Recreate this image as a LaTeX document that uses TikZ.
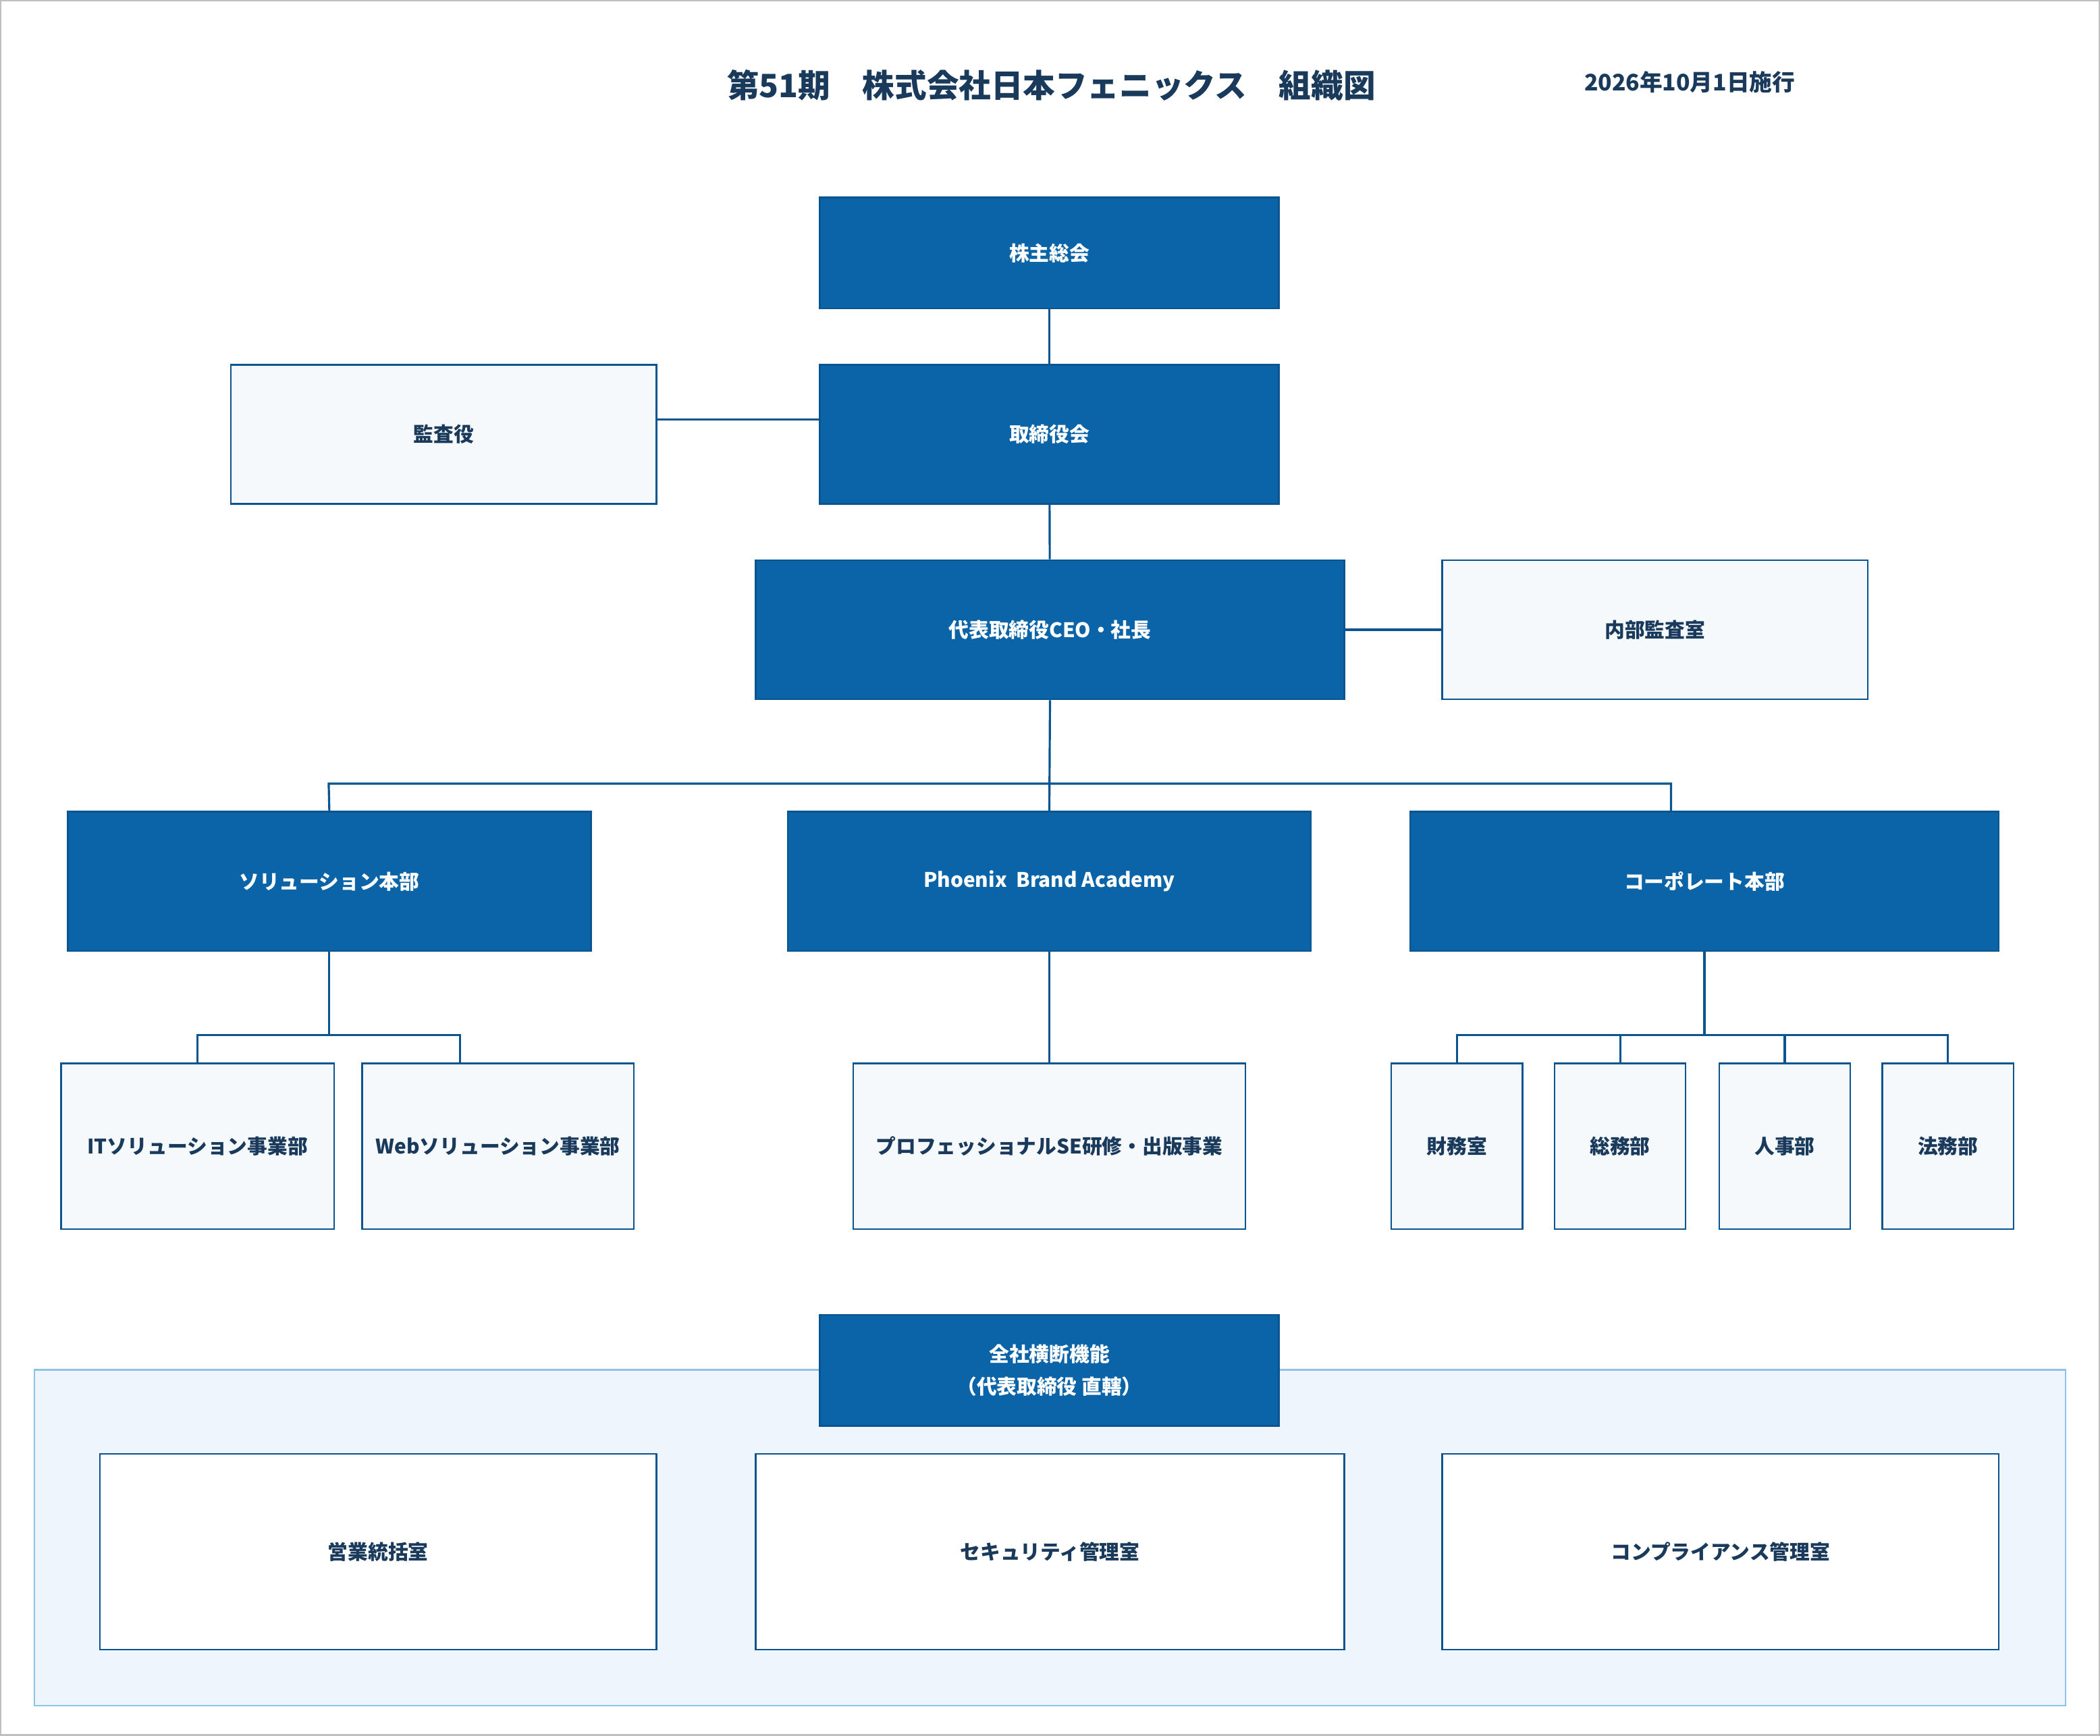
\documentclass[tikz,border=0pt]{standalone}
\usepackage{fontspec}
\setmainfont{Noto Sans CJK JP}
\begin{document}
\definecolor{dk}{HTML}{0C64A8}
\definecolor{lt}{HTML}{F5F9FC}
\definecolor{pn}{HTML}{EEF5FC}
\definecolor{pb}{HTML}{8DC4E6}
\definecolor{tx}{HTML}{1A3A5C}
\begin{tikzpicture}[x=0.5pt,y=-0.5pt,
 box/.style={draw=dk!85!black,line width=0.6pt,inner sep=0,font=\bfseries\fontsize{7.5}{9}\selectfont,align=center},
 dbox/.style={box,fill=dk,text=white},
 lbox/.style={box,fill=lt,text=tx},
 wbox/.style={box,fill=white,text=tx},
 ln/.style={draw=dk!85!black,line width=0.8pt}]
\path[use as bounding box,draw=gray!50,line width=0.6pt] (0,0) rectangle (1568,1296);
\node[text=tx,font=\bfseries\fontsize{12}{14}\selectfont] (title) at (785,63) {第51期\quad 株式会社日本フェニックス\quad 組織図};
\node[text=tx,font=\bfseries\fontsize{8.5}{10}\selectfont] (date) at (1262,61) {2026年10月1日施行};
\newcommand{\bx}[6]{\node[#1,minimum width={(#4-#2)*0.5pt},minimum height={(#5-#3)*0.5pt}] (#6) at ({(#2+#4)/2},{(#3+#5)/2})}
\bx{dbox}{612}{147}{955}{230}{kabu}{株主総会};
\bx{dbox}{612}{272}{955}{376}{tori}{取締役会};
\bx{lbox}{172}{272}{490}{376}{kansa}{監査役};
\bx{dbox}{564}{418}{1004}{522}{ceo}{代表取締役CEO・社長};
\bx{lbox}{1077}{418}{1395}{522}{naibu}{内部監査室};
\bx{dbox}{50}{606}{441}{710}{sol}{ソリューション本部};
\bx{dbox}{588}{606}{979}{710}{pba}{Phoenix\ \ Brand Academy};
\bx{dbox}{1053}{606}{1493}{710}{corp}{コーポレート本部};
\bx{lbox}{45}{794}{249}{918}{it}{ITソリューション事業部};
\bx{lbox}{270}{794}{473}{918}{web}{Webソリューション事業部};
\bx{lbox}{637}{794}{930}{918}{pro}{プロフェッショナルSE研修・出版事業};
\bx{lbox}{1039}{794}{1137}{918}{zaimu}{財務室};
\bx{lbox}{1161}{794}{1259}{918}{soumu}{総務部};
\bx{lbox}{1284}{794}{1382}{918}{jinji}{人事部};
\bx{lbox}{1406}{794}{1504}{918}{houmu}{法務部};
\draw[fill=pn,draw=pb,line width=0.6pt] (25,1023) rectangle (1543,1274);
\bx{dbox}{612}{982}{955}{1065}{oudan}{全社横断機能\\[3pt]（代表取締役 直轄）};
\bx{wbox}{74}{1086}{490}{1232}{eigyo}{営業統括室};
\bx{wbox}{564}{1086}{1004}{1232}{sec}{セキュリティ管理室};
\bx{wbox}{1077}{1086}{1493}{1232}{comp}{コンプライアンス管理室};
% connectors
\draw[ln] (kabu) -- (tori);
\draw[ln] (kansa.east|-0,313) -- (tori.west|-0,313);
\draw[ln] (tori) -- (ceo);
\draw[ln] (ceo) -- (naibu);
\coordinate (b1) at (245,585); \coordinate (b2) at (1248,585);
\draw[ln] (ceo.south) -- (pba.north);
\draw[ln] (sol.north) -- (b1) -- (b2) -- (b2|-corp.north);
\coordinate (s1) at (147,773); \coordinate (s2) at (343,773);
\draw[ln] (sol.south) -- (sol.south|-s1);
\draw[ln] (it.north-|s1) -- (s1) -- (s2) -- (s2|-web.north);
\draw[ln] (pba) -- (pro);
\coordinate (c1) at (1088,773); \coordinate (c2) at (1455,773);
\draw[ln] (corp.south) -- (corp.south|-c1);
\draw[ln] (zaimu.north) -- (c1) -- (c2) -- (houmu.north);
\draw[ln] (soumu.north) -- (soumu.north|-c1);
\draw[ln] (jinji.north) -- (jinji.north|-c1);
\end{tikzpicture}
\end{document}
